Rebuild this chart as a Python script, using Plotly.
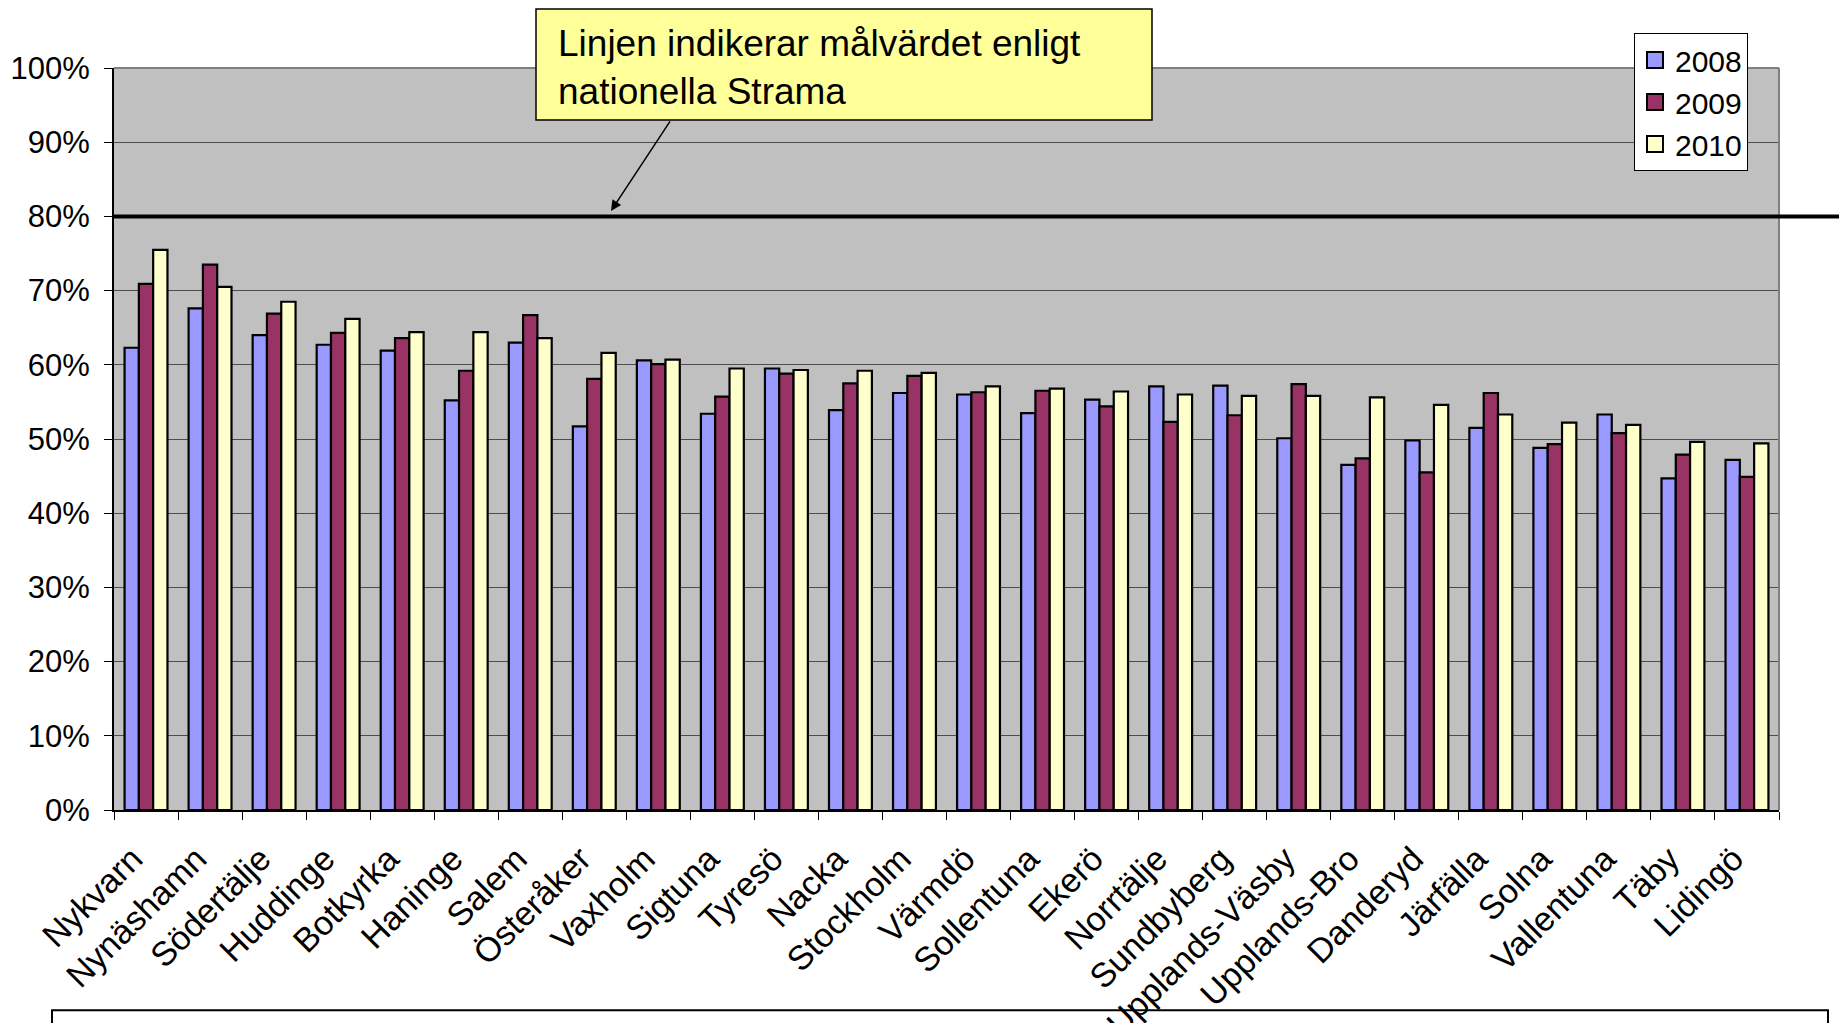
import plotly.graph_objects as go

categories = ["Nykvarn", "Nynäshamn", "Södertälje", "Huddinge", "Botkyrka", "Haninge",
              "Salem", "Österåker", "Vaxholm", "Sigtuna", "Tyresö", "Nacka", "Stockholm",
              "Värmdö", "Sollentuna", "Ekerö", "Norrtälje", "Sundbyberg", "Upplands-Väsby",
              "Upplands-Bro", "Danderyd", "Järfälla", "Solna", "Vallentuna", "Täby", "Lidingö"]

v2008 = [62.3, 67.6, 64.0, 62.7, 61.9, 55.2, 63.0, 51.7, 60.6, 53.4, 59.5, 53.9, 56.2,
         56.0, 53.5, 55.3, 57.1, 57.2, 50.1, 46.5, 49.8, 51.5, 48.8, 53.3, 44.7, 47.2]
v2009 = [70.9, 73.5, 66.9, 64.3, 63.6, 59.2, 66.7, 58.1, 60.1, 55.7, 58.8, 57.5, 58.5,
         56.3, 56.5, 54.4, 52.3, 53.2, 57.4, 47.4, 45.5, 56.2, 49.3, 50.8, 47.9, 44.9]
v2010 = [75.5, 70.5, 68.5, 66.2, 64.4, 64.4, 63.6, 61.6, 60.7, 59.5, 59.3, 59.2, 58.9,
         57.1, 56.8, 56.4, 56.0, 55.8, 55.8, 55.6, 54.6, 53.3, 52.2, 51.9, 49.6, 49.4]

series_names = ["2008", "2009", "2010"]
series_colors = ["#9999FF", "#993366", "#FFFFCC"]
target = 0.80

FONT = "Liberation Sans, Arial, sans-serif"

fig = go.Figure()
for name, vals, col in zip(series_names, [v2008, v2009, v2010], series_colors):
    fig.add_trace(go.Bar(
        x=categories, y=[v / 100 for v in vals], name=name,
        marker=dict(color=col, line=dict(color="black", width=2.2)),
        legendgroup=name, showlegend=False,
    ))
# legend swatches (square boxes with black borders)
for name, col in zip(series_names, series_colors):
    fig.add_trace(go.Scatter(
        x=[None], y=[None], mode="markers", name=name, legendgroup=name,
        marker=dict(symbol="square", size=20, color=col, line=dict(color="black", width=2)),
        showlegend=True, hoverinfo="skip",
    ))

OFF = 8  # page body margin
W, H = 1847, 1023
L = 114 - OFF
R = W - (1779 - OFF)
T = 68 - OFF
B = H - (810.5 - OFF)
pw = W - L - R
ph = H - T - B

def px_x(x):
    return (x - OFF - L) / pw

def px_y(y):
    return (H - B - (y - OFF)) / ph

shapes = [
    dict(type="line", xref="paper", yref="paper", x0=0, x1=1, y0=1, y1=1,
         line=dict(color="#808080", width=2)),
    dict(type="line", xref="paper", yref="paper", x0=1, x1=1, y0=0, y1=1,
         line=dict(color="#808080", width=2)),
    dict(type="line", xref="paper", yref="y", x0=0, x1=px_x(W + 20), y0=target, y1=target,
         line=dict(color="black", width=4), layer="above"),
    dict(type="rect", xref="paper", yref="paper", x0=px_x(536), x1=px_x(1152),
         y0=px_y(120), y1=px_y(9), fillcolor="#FFFF99", line=dict(color="black", width=1.5),
         layer="above"),
    dict(type="rect", xref="paper", yref="paper", x0=px_x(52), x1=px_x(1828),
         y0=px_y(1080), y1=px_y(1011), fillcolor="rgba(0,0,0,0)",
         line=dict(color="black", width=2), layer="below"),
]

annotations = [
    dict(xref="paper", yref="paper", x=px_x(556), y=px_y(67), xanchor="left", yanchor="middle",
         text="Linjen indikerar målvärdet enligt<br>nationella Strama", showarrow=False,
         align="left", font=dict(family=FONT, size=37, color="black")),
    dict(xref="paper", yref="paper", x=px_x(611), y=px_y(211), text="",
         showarrow=True, ax=60, ay=-91, arrowhead=2, arrowsize=1.4, arrowwidth=1.5,
         arrowcolor="black"),
]

# trailing no-break spaces shift each slanted label along its own direction
tick_text = [c + "\u00a0\u00a0" for c in categories]

fig.update_layout(
    width=W, height=H,
    margin=dict(l=L, r=R, t=T, b=B, pad=0),
    paper_bgcolor="white", plot_bgcolor="#C0C0C0",
    barmode="group", bargap=0.33, bargroupgap=0,
    font=dict(family=FONT, size=30, color="black"),
    showlegend=True,
    legend=dict(x=px_x(1634), y=px_y(33), xanchor="left", yanchor="top",
                bgcolor="white", bordercolor="black", borderwidth=1,
                font=dict(family=FONT, size=30), tracegroupgap=11,
                traceorder="normal", itemwidth=30),
    xaxis=dict(type="category", tickangle=-45, tickson="boundaries", ticks="outside",
               ticklen=8, tickcolor="black", showline=True, linecolor="black", linewidth=2,
               showgrid=False, tickfont=dict(family=FONT, size=34), automargin=False,
               tickmode="array", tickvals=categories, ticktext=tick_text,
               ticklabelstandoff=0),
    yaxis=dict(range=[0, 1], dtick=0.1, tickformat=".0%", ticks="outside", ticklen=8,
               tickcolor="black", showline=True, linecolor="black", linewidth=2,
               showgrid=True, gridcolor="#4d4d4d", gridwidth=1, zeroline=False,
               tickfont=dict(family=FONT, size=31), automargin=False,
               ticklabelstandoff=8),
    shapes=shapes, annotations=annotations,
)

fig.write_html("out.html")
